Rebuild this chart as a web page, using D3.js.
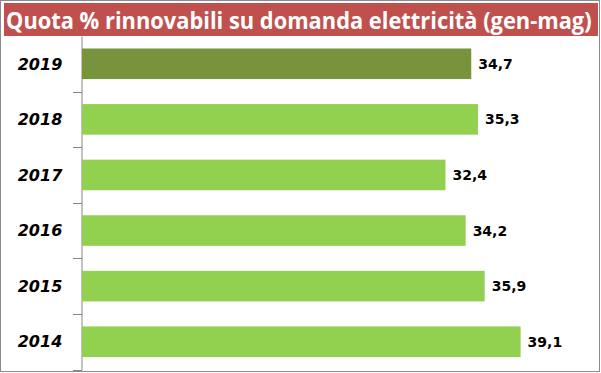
<!DOCTYPE html>
<html lang="it">
<head>
  <meta charset="UTF-8">
  <title>Quota rinnovabili</title>
  <style>
    html, body {
      margin: 0;
      padding: 0;
      overflow: hidden;
      background: #fff;
    }
    svg { display: block; }
  </style>
</head>
<body>
  <svg width="601" height="373"></svg>
</body>
<script src="https://d3js.org/d3.v7.min.js"></script>
<script type="text/javascript">
  const years = ['2019', '2018', '2017', '2016', '2015', '2014']
  const shares = [34.7, 35.3, 32.4, 34.2, 35.9, 39.1]
  const highlightYear = '2019'
  const title = 'Quota % rinnovabili su domanda elettricità (gen-mag)'

  const svg = d3.select('svg')
  const width = 601
  const height = 373

  // outer frame
  svg.append('rect')
    .attr('x', 0.5).attr('y', 0.5)
    .attr('width', width - 2).attr('height', height - 2)
    .attr('fill', '#fff')
    .attr('stroke', '#8c8c8c')

  // title band
  svg.append('rect')
    .attr('x', 4).attr('y', 3)
    .attr('width', 594).attr('height', 33)
    .attr('fill', '#c0504d')

  // title: shrink the font until it fits, then stretch it back vertically
  const titleSize = 23
  const titleText = svg.append('text')
    .attr('fill', '#fff')
    .attr('font-family', 'Open Sans, sans-serif')
    .attr('font-weight', 'bold')
    .attr('font-size', titleSize)
    .text(title)
  const natural = titleText.node().getComputedTextLength()
  const fitSize = Math.min(titleSize, titleSize * 586 / natural)
  titleText
    .attr('font-size', fitSize)
    .attr('transform', `translate(6,29) scale(1,${titleSize / fitSize})`)

  const y = d3.scaleBand()
    .domain(years)
    .range([36, 369.5])
    .paddingInner(0.45)
    .paddingOuter(0.225)

  const x = d3.scaleLinear()
    .domain([0, 46])
    .range([82, 598])

  const yAxis = d3.axisLeft(y)
    .tickSize(0)
    .tickFormat('')

  const axisG = svg.append('g')
    .attr('transform', 'translate(81.5,0)')
    .call(yAxis)
  axisG.select('.domain').attr('stroke', '#868686')

  // tick marks at the band boundaries
  const bounds = d3.range(years.length + 1).map(i => 36 + i * (333.5 / years.length))
  svg.selectAll('line.tick')
    .data(bounds.slice(1))
    .enter()
    .append('line')
    .attr('class', 'tick')
    .attr('x1', 73).attr('x2', 82)
    .attr('y1', d => Math.round(d) + 0.5)
    .attr('y2', d => Math.round(d) + 0.5)
    .attr('stroke', '#868686')

  const rows = years.map((yr, i) => ({ year: yr, value: shares[i] }))

  svg.selectAll('rect.bar')
    .data(rows)
    .enter()
    .append('rect')
    .attr('class', 'bar')
    .attr('x', x(0))
    .attr('y', d => y(d.year))
    .attr('width', d => x(d.value) - x(0))
    .attr('height', y.bandwidth())
    .attr('fill', d => d.year === highlightYear ? '#77933c' : '#92d050')

  svg.selectAll('text.value')
    .data(rows)
    .enter()
    .append('text')
    .attr('class', 'value')
    .attr('x', d => x(d.value) + 7)
    .attr('y', d => y(d.year) + y.bandwidth() / 2)
    .attr('dy', '0.36em')
    .attr('font-family', 'DejaVu Sans, sans-serif')
    .attr('font-weight', 'bold')
    .attr('font-size', 14)
    .attr('fill', '#000')
    .text(d => d3.format('.1f')(d.value).replace('.', ','))

  svg.selectAll('text.year')
    .data(rows)
    .enter()
    .append('text')
    .attr('class', 'year')
    .attr('x', 40)
    .attr('y', d => y(d.year) + y.bandwidth() / 2)
    .attr('dy', '0.36em')
    .attr('text-anchor', 'middle')
    .attr('font-family', 'DejaVu Sans, sans-serif')
    .attr('font-weight', 'bold')
    .attr('font-style', 'italic')
    .attr('font-size', 16)
    .attr('fill', '#000')
    .text(d => d.year)
</script>
</html>
